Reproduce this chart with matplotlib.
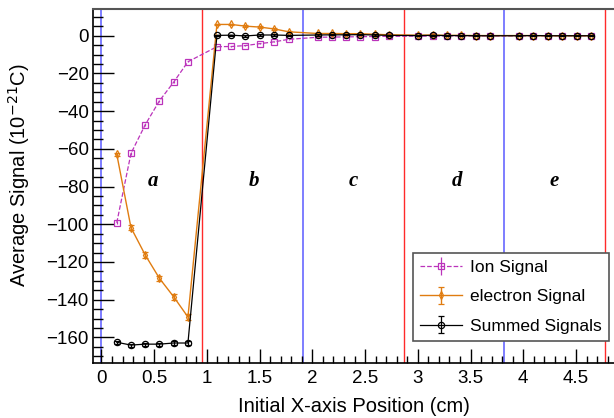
import numpy as np
import matplotlib.pyplot as plt
from matplotlib.ticker import MultipleLocator

plt.rcParams['font.family'] = ['Liberation Sans', 'DejaVu Sans']

# measurement positions (cm)
x_pos = [0.145, 0.28, 0.415, 0.55, 0.685, 0.82,
         1.095, 1.23, 1.365, 1.50, 1.64, 1.775,
         2.05, 2.185, 2.32, 2.455, 2.59, 2.73,
         3.00, 3.14, 3.275, 3.41, 3.55, 3.685,
         3.96, 4.095, 4.23, 4.37, 4.505, 4.64]

ion_sig = [-99.2, -62.4, -47.2, -34.5, -24.6, -13.8,
           -5.8, -5.7, -5.2, -4.2, -3.2, -1.9,
           -0.8, -0.7, -0.6, -0.5, -0.4, -0.3,
           -0.2, -0.2, -0.1, -0.1, -0.1, -0.1,
           -0.1, 0.0, 0.0, 0.0, 0.0, 0.0]
ion_err = [0.8, 0.6, 0.5, 0.4, 0.4, 0.3] + [0.2] * 24

ele_sig = [-62.8, -101.8, -116.3, -128.7, -138.5, -149.2,
           6.0, 6.0, 5.1, 4.6, 3.6, 2.1,
           1.2, 1.2, 1.1, 1.1, 0.8, 0.5,
           0.3, 0.4, 0.2, 0.2, 0.1, 0.1,
           0.1, 0.1, 0.0, 0.0, 0.0, 0.0]
ele_err = [0.8, 1.5, 1.5, 1.4, 1.5, 1.6] + [0.5] * 6 + [0.3] * 18

sum_sig = [-162.6, -164.1, -163.6, -163.6, -163.0, -163.0,
           0.2, 0.3, -0.1, 0.4, 0.4, 0.2,
           0.4, 0.5, 0.5, 0.6, 0.4, 0.2,
           0.1, 0.2, 0.1, 0.1, 0.0, 0.0,
           0.0, 0.1, 0.0, 0.0, 0.0, 0.0]
sum_err = [0.8, 0.8, 0.8, 0.8, 0.9, 0.9] + [0.3] * 24

# region boundaries
blue_lines = [0.0, 1.91, 3.82]
red_lines = [0.955, 2.865, 4.775]
region_names = ['a', 'b', 'c', 'd', 'e']
region_x = [0.49, 1.45, 2.39, 3.37, 4.29]
region_y = -77

fig = plt.figure(figsize=(6.14, 4.18), dpi=100)
ax = fig.add_axes([0.1515, 0.1316, 0.8485, 0.8469])

for xv in blue_lines:
    ax.axvline(xv, color='#5a5aff', lw=1.1, zorder=1)
for xv in red_lines:
    ax.axvline(xv, color='#ff2a2a', lw=1.0, zorder=1)

ax.errorbar(x_pos, ion_sig, yerr=ion_err, color='#bb33bb', ls='--', lw=0.9,
            marker='s', ms=4.5, mfc='none', mew=0.9, capsize=0,
            label='Ion Signal', zorder=3)
ax.errorbar(x_pos, ele_sig, yerr=ele_err, color='#e07c10', ls='-', lw=1.0,
            marker='d', ms=4, mfc='none', mew=0.9, capsize=2,
            label='electron Signal', zorder=4)
ax.errorbar(x_pos, sum_sig, yerr=sum_err, color='black', ls='-', lw=0.9,
            marker='o', ms=4.5, mfc='none', mew=0.9, capsize=2,
            label='Summed Signals', zorder=5)

for name, xt in zip(region_names, region_x):
    ax.text(xt, region_y, name, fontsize=15, fontweight='bold', fontstyle='italic',
            family='Liberation Serif', ha='center', va='center')

ax.set_xlim(-0.08, 4.86)
ax.set_ylim(-173.6, 14.2)

ax.xaxis.set_major_locator(MultipleLocator(0.5))
ax.xaxis.set_minor_locator(MultipleLocator(0.1))
ax.yaxis.set_major_locator(MultipleLocator(20))
ax.yaxis.set_minor_locator(MultipleLocator(5))
ax.tick_params(axis='y', which='major', direction='in', length=15, width=1, labelsize=13.5, pad=3)
ax.tick_params(axis='y', which='minor', direction='in', length=7.5, width=1)
ax.tick_params(axis='x', which='major', direction='in', length=10, width=1, labelsize=13.5, pad=5)
ax.tick_params(axis='x', which='minor', direction='in', length=5, width=1)
ax.set_xticks([0, 0.5, 1, 1.5, 2, 2.5, 3, 3.5, 4, 4.5])
ax.set_xticklabels(['0', '0.5', '1', '1.5', '2', '2.5', '3', '3.5', '4', '4.5'])
yt = np.arange(-160, 1, 20)
ax.set_yticks(yt)
ax.set_yticklabels(['\u2212' + str(-v) if v < 0 else str(v) for v in yt])

ax.spines['right'].set_visible(False)
ax.spines['top'].set_color('#555555')
ax.spines['top'].set_linewidth(1.5)
ax.spines['left'].set_linewidth(1.2)
ax.spines['bottom'].set_linewidth(1.2)

ax.set_xlabel('Initial X-axis Position (cm)', fontsize=14.5, labelpad=7)
ax.set_ylabel('Average Signal (10$^{-21}$C)', fontsize=14.5)
ax.yaxis.set_label_coords(-0.118, 0.53)

leg = ax.legend(loc='upper left', bbox_to_anchor=(413 / 614, 1 - 253 / 418),
                bbox_transform=fig.transFigure, fontsize=12.5, frameon=True,
                fancybox=False, edgecolor='#555555', framealpha=1,
                borderpad=0.4, labelspacing=0.82, handlelength=2.4,
                handletextpad=0.5, borderaxespad=0)
leg.get_frame().set_linewidth(1.2)

fig.savefig('out.png', dpi=100)
